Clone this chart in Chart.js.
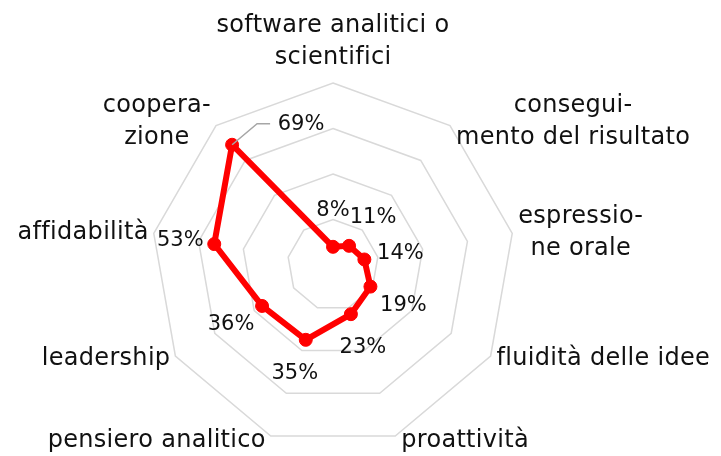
<!DOCTYPE html>
<html>
<head>
<meta charset="utf-8">
<script src="https://cdn.jsdelivr.net/npm/chart.js@4"></script>
<style>
  body { margin: 0; background: #fff; }
</style>
</head>
<body>
<canvas id="myChart" width="721" height="456"></canvas>
<script>
// categories (multi-line labels as in the original)
const categories = [
  ['software analitici o', 'scientifici'],
  ['consegui-', 'mento del risultato'],
  ['espressio-', 'ne orale'],
  ['fluidità delle idee'],
  ['proattività'],
  ['pensiero analitico'],
  ['leadership'],
  ['affidabilità'],
  ['coopera-', 'zione']
];
const values = [8, 11, 14, 19, 23, 35, 36, 53, 69];
const scaleMax = 80;
const scaleStep = 20;

// label offsets from each point (px), as placed in the original
const labelOffsets = [[0, -36], [24, -28], [36, -6], [33, 19], [12, 33], [-11, 34], [-31, 19], [-34, -4], [69, -20]];

const labelsPlugin = {
  id: 'labelsPlugin',
  afterDatasetsDraw(chart) {
    const ctx = chart.ctx;
    const scale = chart.scales.r;
    const n = categories.length;
    ctx.save();

    // category labels
    ctx.font = '24px "DejaVu Sans"';
    ctx.letterSpacing = '0.3px';
    ctx.fillStyle = '#111';
    ctx.textBaseline = 'middle';
    ctx.textAlign = 'center';
    const lh = 32;
    for (let i = 0; i < n; i++) {
      const lines = categories[i];
      const p = scale.getPointPosition(i, scale.drawingArea);
      const ang = i * 2 * Math.PI / n;
      const w = Math.max(...lines.map(l => ctx.measureText(l).width));
      let cx, cy;
      if (i === 0) {
        cx = p.x;
        cy = p.y - 25 - (lines.length - 1) * lh / 2;
      } else {
        const right = Math.sin(ang) > 0;
        cx = right ? p.x + 6 + w / 2 : p.x - 5 - w / 2;
        cy = p.y - 5 * Math.cos(ang);
      }
      lines.forEach((l, k) => {
        ctx.fillText(l, cx, cy + (k - (lines.length - 1) / 2) * lh);
      });
    }

    // data labels
    const meta = chart.getDatasetMeta(0);
    ctx.letterSpacing = '0px';
    ctx.font = '21px "DejaVu Sans"';
    meta.data.forEach((pt, i) => {
      const [dx, dy] = labelOffsets[i];
      ctx.fillText(values[i] + '%', pt.x + dx, pt.y + dy);
    });

    // leader line for the largest value
    const big = meta.data[values.length - 1];
    ctx.strokeStyle = '#a6a6a6';
    ctx.lineWidth = 1.5;
    ctx.beginPath();
    ctx.moveTo(big.x, big.y);
    ctx.lineTo(big.x + 25, big.y - 21);
    ctx.lineTo(big.x + 38, big.y - 21);
    ctx.stroke();
    ctx.restore();
  }
};

window.config = {
  type: 'radar',
  data: {
    labels: categories,
    datasets: [{
      data: values,
      borderColor: '#ff0000',
      backgroundColor: '#ff0000',
      pointBackgroundColor: '#ff0000',
      pointBorderColor: '#ff0000',
      borderWidth: 6,
      pointRadius: 6.5,
      pointBorderWidth: 1,
      fill: false,
      tension: 0
    }]
  },
  options: {
    responsive: false,
    animation: false,
    layout: { padding: { top: 83, bottom: 9, left: 151, right: 206 } },
    plugins: {
      legend: { display: false },
      tooltip: { enabled: false }
    },
    scales: {
      r: {
        min: 0,
        max: scaleMax,
        ticks: { display: false, stepSize: scaleStep },
        angleLines: { display: false },
        pointLabels: { display: false },
        grid: { color: '#d9d9d9', lineWidth: 1.5 }
      }
    }
  },
  plugins: [labelsPlugin]
};

window.ctx = document.getElementById('myChart').getContext('2d');
window.myRadar = new Chart(ctx, config);
</script>
</body>
</html>
